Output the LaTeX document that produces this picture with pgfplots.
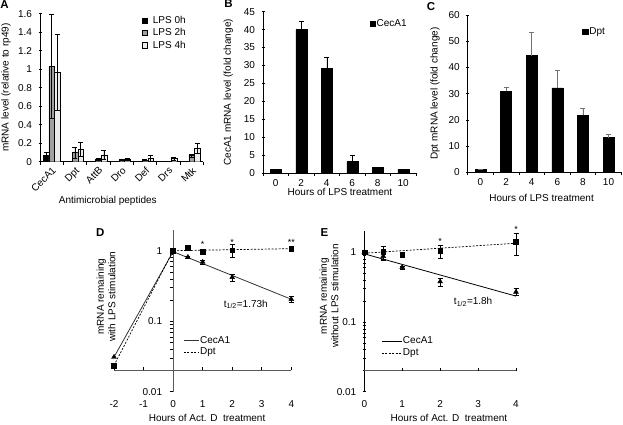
\documentclass[border=0pt]{standalone}
\usepackage{pgfplots}
\pgfplotsset{compat=1.18}
\usepackage{fontspec}
\setmainfont{Liberation Sans}
\definecolor{barmid}{HTML}{A0A0A0}
\definecolor{barlight}{HTML}{EBEBEB}
\begin{document}
\begin{tikzpicture}
\useasboundingbox (0pt,0pt) rectangle (623pt,424pt);
\pgfplotsset{
  every axis/.append style={scale only axis,
    font=\fontsize{10}{11.5}\selectfont,
    /pgf/number format/assume math mode=true,
    tick label style={font=\fontsize{10}{11.5}\selectfont},
    yticklabel style={xshift=-3pt},
    major tick length=3pt, minor tick length=3pt,
    tick style={black, line width=0.5pt},
    tick align=outside},
  errstyle/.style={error bars/.cd, y explicit,
    error bar style={line width=0.5pt, black},
    error mark options={rotate=90, mark size=2.5pt, line width=0.5pt, black}},
}
% ---------------- A ----------------
\begin{axis}[at={(40pt,262.3pt)}, anchor=south west, width=163.3pt, height=148pt,
  axis lines=left, axis line style={-, black, line width=0.6pt},
  xmin=-0.5, xmax=6.5, ymin=0, ymax=1.6,
  ytick={0,0.2,0.4,0.6,0.8,1,1.2,1.4,1.6},
  xtick={0,...,6}, xticklabels={CecA1,Dpt,AttB,Dro,Def,Drs,Mtk},
  minor xtick={-0.5,0.5,...,6.5},
  every major x tick/.append style={draw=none},
  xticklabel style={rotate=45, anchor=north east, inner sep=1pt},
  ybar=0pt, bar width=5.6pt,
  legend style={at={(rel axis cs:0.625,0.99)}, anchor=north west, draw=none, fill=none,
    inner sep=0pt, row sep=1.5pt, column sep=4pt, nodes={inner sep=1pt}},
  legend cell align=left,
  legend image code/.code={\draw[#1, draw=black, line width=0.4pt] (0pt,-2.6pt) rectangle (5.2pt,2.6pt);},
  xlabel={Antimicrobial peptides}, ylabel={mRNA level (relative to rp49)},
  every axis x label/.style={at={(rel axis cs:0.415,-0.266)}, anchor=center},
  every axis y label/.style={at={(rel axis cs:-0.208,0.5)}, anchor=center, rotate=90},
]
\addplot[fill=black, draw=black, line width=0.4pt, errstyle, y dir=both] coordinates {
 (0,0.07) +- (0,0.03) (1,0.006) +- (0,0.002) (2,0.003) +- (0,0.001) (3,0.004) +- (0,0.001)
 (4,0.004) +- (0,0.001) (5,0.003) +- (0,0.001) (6,0.006) +- (0,0.002)};
\addlegendentry{LPS 0h}
\addplot[fill=barmid, draw=black, line width=0.4pt, errstyle, y dir=both] coordinates {
 (0,1.03) +- (0,0.56) (1,0.10) +- (0,0.06) (2,0.03) +- (0,0.01) (3,0.02) +- (0,0.005)
 (4,0.018) +- (0,0.005) (5,0.004) +- (0,0.002) (6,0.065) +- (0,0.02)};
\addlegendentry{LPS 2h}
\addplot[fill=barlight, draw=black, line width=0.4pt, errstyle, y dir=both] coordinates {
 (0,0.97) +- (0,0.41) (1,0.135) +- (0,0.08) (2,0.075) +- (0,0.045) (3,0.025) +- (0,0.01)
 (4,0.04) +- (0,0.03) (5,0.035) +- (0,0.015) (6,0.145) +- (0,0.05)};
\addlegendentry{LPS 4h}
\end{axis}
% ---------------- B ----------------
\begin{axis}[at={(263pt,251pt)}, anchor=south west, width=153pt, height=161.3pt,
  axis lines=left, axis line style={-, black, line width=0.6pt},
  xmin=-0.5, xmax=5.5, ymin=0, ymax=45,
  ytick={0,5,10,15,20,25,30,35,40,45},
  xtick={0,...,5}, xticklabels={0,2,4,6,8,10},
  minor xtick={-0.5,0.5,...,5.5},
  every major x tick/.append style={draw=none},
  ybar, bar width=11pt,
  legend style={at={(rel axis cs:0.695,0.924)}, anchor=west, draw=none, fill=none,
    inner sep=0pt, column sep=0.5pt, nodes={inner sep=1pt}},
  legend image code/.code={\draw[#1, draw=black] (0pt,-2.6pt) rectangle (5.2pt,2.6pt);},
  xlabel={Hours of LPS treatment}, ylabel={CecA1 mRNA level (fold change)},
  every axis x label/.style={at={(rel axis cs:0.503,-0.116)}, anchor=center},
  every axis y label/.style={at={(rel axis cs:-0.227,0.5)}, anchor=center, rotate=90},
]
\addplot[fill=black, draw=black, errstyle, y dir=plus] coordinates {
 (0,1.0) +- (0,0.1) (1,40) +- (0,2.3) (2,29.2) +- (0,3.1) (3,3.2) +- (0,1.8)
 (4,1.5) +- (0,0.15) (5,1.0) +- (0,0.15)};
\addlegendentry{CecA1}
\end{axis}
% ---------------- C ----------------
\begin{axis}[at={(467.7pt,251.7pt)}, anchor=south west, width=153.6pt, height=157.3pt,
  axis lines=left, axis line style={-, black, line width=0.6pt},
  xmin=-0.5, xmax=5.5, ymin=0, ymax=60,
  ytick={0,10,20,30,40,50,60},
  xtick={0,...,5}, xticklabels={0,2,4,6,8,10},
  minor xtick={-0.5,0.5,...,5.5},
  every major x tick/.append style={draw=none},
  ybar, bar width=11pt,
  legend style={at={(rel axis cs:0.745,0.894)}, anchor=west, draw=none, fill=none,
    inner sep=0pt, column sep=0.5pt, nodes={inner sep=1pt}},
  legend image code/.code={\draw[#1, draw=black] (0pt,-2.6pt) rectangle (5.2pt,2.6pt);},
  xlabel={Hours of LPS treatment}, ylabel={Dpt mRNA level (fold change)},
  every axis x label/.style={at={(rel axis cs:0.481,-0.16)}, anchor=center},
  every axis y label/.style={at={(rel axis cs:-0.213,0.5)}, anchor=center, rotate=90},
]
\addplot[fill=black, draw=black, errstyle, y dir=plus,
  error bar style={line width=0.5pt, black!55}, error mark options={rotate=90, mark size=2.5pt, black!55}] coordinates {
 (0,1.0) +- (0,0.2) (1,31) +- (0,1.5) (2,44.5) +- (0,9) (3,32.2) +- (0,6.8)
 (4,21.7) +- (0,2.7) (5,13.2) +- (0,1.4)};
\addlegendentry{Dpt}
\end{axis}
% ---------------- D ----------------
\begin{axis}[at={(114pt,32.3pt)}, anchor=south west, width=177.3pt, height=162.2pt,
  ymode=log, log ticks with fixed point,
  xmin=-2, xmax=4, ymin=0.01, ymax=2,
  ytick={0.01,0.1,1}, xtick={-2,...,4},
  axis y line=center, axis x line=bottom,
  hide obscured x ticks=false, hide obscured y ticks=false,
  x axis line style={draw=none},
  y axis line style={-, black!65, line width=0.8pt},
  every major x tick/.append style={draw=none},
  every y tick/.append style={xshift=-1.5pt},
  xticklabel style={yshift=-4pt},
  yticklabel style={xshift=-3pt},
  clip=false,
  legend style={at={(rel axis cs:0.39,0.35)}, anchor=north west, draw=none, fill=none,
    inner sep=0pt, row sep=1.5pt, nodes={inner sep=1pt}},
  legend cell align=left,
  legend image code/.code={\draw[#1] (0pt,0pt) -- (15pt,0pt);},
  xlabel={Hours of Act. D\ \ treatment}, ylabel={mRNA remaining\\with LPS stimulation},
  every axis x label/.style={at={(rel axis cs:0.525,-0.162)}, anchor=center},
  every axis y label/.style={at={(rel axis cs:-0.045,0.587)}, anchor=center, rotate=90, align=center},
]
\draw[black!65, line width=0.8pt] (axis cs:-2,0.02) -- (axis cs:4,0.02);
\draw[black, line width=0.5pt] (axis cs:-2,0.02) -- ++(0pt,3pt);
\draw[black, line width=0.5pt] (axis cs:-1,0.02) -- ++(0pt,3pt);
\draw[black, line width=0.5pt] (axis cs:1,0.02) -- ++(0pt,3pt);
\draw[black, line width=0.5pt] (axis cs:2,0.02) -- ++(0pt,3pt);
\draw[black, line width=0.5pt] (axis cs:3,0.02) -- ++(0pt,3pt);
\draw[black, line width=0.5pt] (axis cs:4,0.02) -- ++(0pt,3pt);
\addplot[black!80, line width=0.8pt] coordinates {(-2,0.031) (0,0.97) (4,0.205)};
\addlegendentry{CecA1}
\addplot[black, line width=0.7pt, dash pattern=on 2pt off 1.5pt] coordinates {(-2,0.0236) (0,1.0) (4,1.07)};
\addlegendentry{Dpt}
\addplot[only marks, mark=triangle*, mark size=2.8pt, black, forget plot, errstyle, y dir=both] coordinates {
 (-2,0.031) (0,1) (0.5,0.81) +- (0,0.03) (1,0.69) +- (0,0.04) (2,0.42) +- (0,0.05) (4,0.205) +- (0,0.02)};
\addplot[only marks, mark=square*, mark size=2.4pt, black, forget plot, errstyle, y dir=both] coordinates {
 (-2,0.0236) (0,1) (0.5,1.1) +- (0,0.1) (1,0.98) +- (0,0.03) (2,1.02) +- (0,0.2) (4,1.07) +- (0,0.04)};
\node[font=\fontsize{9}{9}\selectfont] at (axis cs:1,1.22) {*};
\node[font=\fontsize{9}{9}\selectfont] at (axis cs:2,1.33) {*};
\node[font=\fontsize{9}{9}\selectfont] at (axis cs:4,1.33) {**};
\node at (axis cs:2.46,0.174) {t\textsubscript{1/2}=1.73h};
\end{axis}
% ---------------- E ----------------
\begin{axis}[at={(364.3pt,32.3pt)}, anchor=south west, width=151.7pt, height=160.4pt,
  ymode=log, log ticks with fixed point,
  xmin=0, xmax=4, ymin=0.01, ymax=2,
  ytick={0.01,0.1,1}, xtick={0,...,4},
  axis y line=left, axis x line=bottom,
  x axis line style={draw=none},
  y axis line style={-, black, line width=0.7pt},
  every major x tick/.append style={draw=none},
  xticklabel style={yshift=-4pt},
  clip=false,
  legend style={at={(rel axis cs:0.11,0.35)}, anchor=north west, draw=none, fill=none,
    inner sep=0pt, row sep=1.5pt, nodes={inner sep=1pt}},
  legend cell align=left,
  legend image code/.code={\draw[#1] (0pt,0pt) -- (20pt,0pt);},
  xlabel={Hours of Act. D\ \ treatment}, ylabel={mRNA remaining\\without LPS stimulation},
  every axis x label/.style={at={(rel axis cs:0.558,-0.164)}, anchor=center},
  every axis y label/.style={at={(rel axis cs:-0.233,0.597)}, anchor=center, rotate=90, align=center},
]
\draw[black!65, line width=0.8pt] (axis cs:0,0.02) -- (axis cs:4,0.02);
\draw[black, line width=0.5pt] (axis cs:1,0.02) -- ++(0pt,3pt);
\draw[black, line width=0.5pt] (axis cs:2,0.02) -- ++(0pt,3pt);
\draw[black, line width=0.5pt] (axis cs:3,0.02) -- ++(0pt,3pt);
\draw[black, line width=0.5pt] (axis cs:4,0.02) -- ++(0pt,3pt);
\addplot[black, line width=0.8pt] coordinates {(0,0.95) (4,0.235)};
\addlegendentry{CecA1}
\addplot[black, line width=0.7pt, dash pattern=on 2pt off 1.5pt] coordinates {(0,0.97) (4,1.35)};
\addlegendentry{Dpt}
\addplot[only marks, mark=triangle*, mark size=2.8pt, black, forget plot, errstyle, y dir=both] coordinates {
 (0,1) (0.5,0.88) +- (0,0.1) (1,0.61) +- (0,0.03) (2,0.38) +- (0,0.05) (4,0.27) +- (0,0.03)};
\addplot[only marks, mark=square*, mark size=2.4pt, black, forget plot, errstyle, y dir=both] coordinates {
 (0,1) (0.5,1.02) +- (0,0.22) (1,0.935) +- (0,0.05) (2,1.05) +- (0,0.22) (4,1.4) +- (0,0.49)};
\node[font=\fontsize{9}{9}\selectfont] at (axis cs:2,1.43) {*};
\node[font=\fontsize{9}{9}\selectfont] at (axis cs:4,2.12) {*};
\node at (axis cs:2.87,0.195) {t\textsubscript{1/2}=1.8h};
\end{axis}
% panel letters
\node[font=\bfseries\fontsize{11.5}{12}\selectfont] at (4.5pt,419.5pt) {A};
\node[font=\bfseries\fontsize{11.5}{12}\selectfont] at (228.5pt,420pt) {B};
\node[font=\bfseries\fontsize{11.5}{12}\selectfont] at (431pt,417.3pt) {C};
\node[font=\bfseries\fontsize{11.5}{12}\selectfont] at (100.3pt,191.5pt) {D};
\node[font=\bfseries\fontsize{11.5}{12}\selectfont] at (324.5pt,191pt) {E};
\end{tikzpicture}
\end{document}
